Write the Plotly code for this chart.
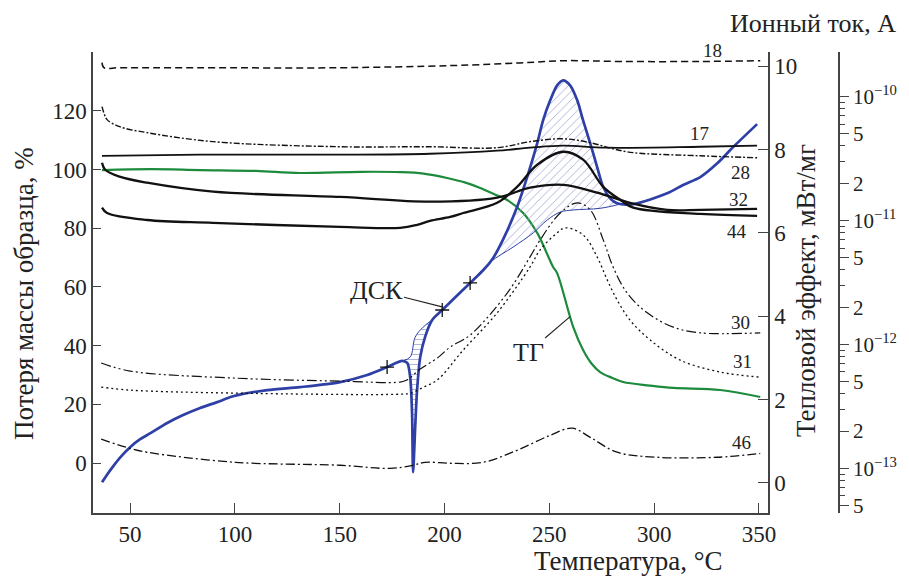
import numpy as np
import plotly.graph_objects as go

# ---------------- data ----------------
# TG, mass %, left axis
T_tg = [36.6, 60, 83.4, 110, 131.1, 160, 178.8, 190, 201.2, 210, 217, 224, 229.9, 237.5,
        244.2, 251.8, 253.7, 261.4, 266.1, 270, 274.2, 280, 285.2, 298, 309.1, 331.5, 350.6]
tg = [99.8, 100.1, 99.8, 99.5, 98.8, 99.2, 99.1, 98.6, 97.1, 95.5, 93.7, 91.5, 89.6, 85.2,
      78.4, 66.8, 64.7, 46.3, 38.5, 34.0, 31.0, 29.0, 27.6, 26.4, 25.6, 24.9, 22.5]

# DSC, mW/mg, right axis
T_dsc = [36.6, 39.0, 41.9, 45.2, 50, 54.8, 59.5, 67.7, 75.3, 83.4, 91.5, 99.1, 115.4, 131.1,
         150.2, 163.1, 172.6, 179.8, 182.2, 183.6, 184.5, 185.0, 186.0, 186.9, 188.4, 190.7,
         194.1, 198.9, 212.2, 218.4, 223.2, 228.0, 234.6, 239.4, 244.2, 247.0, 250.4, 253.7,
         256.6, 259.9, 263.3, 266.1, 269.5, 272.8, 275.7, 279.0, 282.3, 290.0, 306.2, 313.8,
         322.0, 330.1, 337.7, 349.1]
dsc = [0.02, 0.20, 0.40, 0.61, 0.86, 1.05, 1.19, 1.44, 1.63, 1.80, 1.94, 2.08, 2.23, 2.30,
       2.42, 2.59, 2.78, 2.93, 2.88, 2.54, 1.68, 0.26, 1.34, 2.23, 3.02, 3.50,
       3.91, 4.15, 4.80, 5.10, 5.40, 5.85, 6.62, 7.34, 8.15, 8.70, 9.18, 9.54,
       9.66, 9.54, 9.18, 8.70, 8.15, 7.58, 7.10, 6.83, 6.71, 6.69, 6.95, 7.15,
       7.34, 7.67, 8.06, 8.61]

# DSC integration baselines
T_base_peak = [212.2, 221.8, 232.7, 242.3, 249.0, 255.2, 261.4, 274.2, 283.8]
base_peak = [4.80, 5.30, 5.66, 6.00, 6.31, 6.50, 6.55, 6.59, 6.69]
T_base_dip = [179.8, 183.6, 186.0, 189.8, 194.1]
base_dip = [2.93, 3.02, 3.50, 3.74, 3.91]
T_marks = [172.6, 198.9, 212.2]

# Ion currents, units of 1e-10 A (log axis)
T_18 = [36.6, 37.5, 45, 83, 150, 203, 236, 257, 284, 322, 350.6]
i_18 = [1.88, 1.71, 1.71, 1.71, 1.71, 1.78, 1.87, 1.95, 1.92, 1.92, 1.95]

T_17 = [36.6, 83.4, 150.2, 193, 225.1, 240.8, 256.6, 277, 322, 349.1]
i_17 = [0.333, 0.340, 0.340, 0.346, 0.366, 0.387, 0.402, 0.387, 0.394, 0.402]

T_28 = [36.6, 37.6, 39.0, 45, 58.1, 89.6, 150.2, 193.1, 225.1, 240.8, 256.6, 269.5, 280, 290, 322, 349.1]
i_28 = [0.830, 0.729, 0.652, 0.572, 0.512, 0.433, 0.394, 0.394, 0.387, 0.433, 0.457, 0.425,
        0.380, 0.353, 0.333, 0.321]

T_32 = [36.6, 38.1, 45, 58.1, 89.6, 150.2, 193.1, 225.1, 240.8, 256.6, 272.8, 288.5, 306.2, 322, 349.1]
i_32 = [0.293, 0.257, 0.226, 0.202, 0.171, 0.155, 0.142, 0.153, 0.184, 0.194, 0.168, 0.139,
        0.122, 0.122, 0.124]

T_44 = [36.6, 39.0, 58.1, 89.6, 150.2, 178.8, 186.9, 193.1, 202.7, 208.9, 225.1, 234.6, 244.2,
        256.6, 266.1, 275.7, 283.8, 290, 322, 349.1]
i_44 = [0.127, 0.115, 0.101, 0.0958, 0.0889, 0.0873, 0.0923, 0.0994, 0.107, 0.115, 0.139, 0.187,
        0.282, 0.359, 0.310, 0.187, 0.147, 0.127, 0.113, 0.109]

T_30 = [36.2, 50, 100.1, 150.2, 178.8, 182, 188.4, 196.5, 202.7, 212.2, 229.9, 240.8, 245.6, 255.2,
        263.3, 269.5, 275.7, 280.4, 287.1, 296.7, 309.1, 322, 350.6]
i_30 = [0.00708, 0.00610, 0.00535, 0.00506, 0.00497, 0.00516, 0.00633, 0.00776, 0.00953, 0.0119,
        0.0260, 0.0509, 0.0698, 0.115, 0.139, 0.122, 0.0698, 0.0422, 0.0260, 0.0180, 0.0138, 0.0124, 0.0124]

T_31 = [36.2, 50, 100.1, 178.8, 184, 190, 196.5, 208.9, 225.1, 240.8, 245.6, 253.7, 257.5, 266.1,
        272.8, 277.6, 282.3, 288.5, 298.1, 312.4, 331.5, 350.6]
i_31 = [0.00453, 0.00428, 0.00405, 0.00397, 0.00405, 0.00453, 0.00516, 0.00901, 0.0180, 0.0422,
        0.0580, 0.0796, 0.0873, 0.0766, 0.0509, 0.0332, 0.0229, 0.0157, 0.01086, 0.00748, 0.00599, 0.00545]

T_46 = [36.2, 50, 58.1, 100.1, 150.2, 174, 185, 190.7, 202.7, 218.4, 234.6, 250.4, 260.9, 269.5,
        282.3, 301.4, 330.1, 350.6]
i_46 = [0.00172, 0.00145, 0.00135, 0.00112, 0.00106, 0.00100, 0.00106, 0.00112, 0.00110, 0.00112,
        0.00140, 0.00185, 0.00211, 0.00178, 0.00135, 0.00123, 0.00123, 0.00132]

x_ticks = [50, 100, 150, 200, 250, 300, 350]
y_ticks = [0, 20, 40, 60, 80, 100, 120]
y2_ticks = [0, 2, 4, 6, 8, 10]
log_tickvals = [1e-10, 5e-11, 2e-11, 1e-11, 5e-12, 2e-12, 1e-12, 5e-13, 2e-13, 1e-13, 5e-14]
log_ticktext = ["10<sup>−10</sup>", "5", "2", "10<sup>−11</sup>", "5", "2",
                "10<sup>−12</sup>", "5", "2", "10<sup>−13</sup>", "5"]

ION_SCALE = 1e-10

# ---------------- styling ----------------
FONT = "Liberation Serif"
BLUE = "#2e3fa6"
GREEN = "#1d8a3c"
HATCH = "#a9add6"
AX = "#444444"

W, H = 909, 576
ML, MR, MT, MB = 93, 70, 52, 63
PW, PH = W - ML - MR, H - MT - MB


def px(p):
    return (p - ML) / PW


def py(p):
    return (H - MB - p) / PH


fig = go.Figure()

# hatched areas
Td = np.array(T_dsc)
Dd = np.array(dsc)
sel = (Td >= T_base_peak[0]) & (Td <= T_base_peak[-1])
fig.add_trace(go.Scatter(
    x=list(Td[sel]) + T_base_peak[::-1], y=list(Dd[sel]) + base_peak[::-1],
    yaxis="y2", mode="lines", fill="toself", line=dict(width=0, color="rgba(0,0,0,0)"),
    fillcolor="rgba(0,0,0,0)",
    fillpattern=dict(shape="/", fgcolor=HATCH, bgcolor="rgba(0,0,0,0)", size=6, solidity=0.15),
    hoverinfo="skip", showlegend=False))
sel2 = (Td >= T_base_dip[0]) & (Td <= T_base_dip[-1])
fig.add_trace(go.Scatter(
    x=list(Td[sel2]) + T_base_dip[::-1], y=list(Dd[sel2]) + base_dip[::-1],
    yaxis="y2", mode="lines", fill="toself", line=dict(width=0, color="rgba(0,0,0,0)"),
    fillcolor="rgba(0,0,0,0)",
    fillpattern=dict(shape="-", fgcolor=HATCH, bgcolor="rgba(0,0,0,0)", size=5, solidity=0.18),
    hoverinfo="skip", showlegend=False))

# TG
fig.add_trace(go.Scatter(x=T_tg, y=tg, yaxis="y", mode="lines",
                         line=dict(color=GREEN, width=2.2, shape="spline", smoothing=1.0),
                         showlegend=False))

# ion currents
ion_specs = [
    (T_18, i_18, 1.5, "7px,4px"),
    (T_17, i_17, 1.8, "solid"),
    (T_28, i_28, 1.4, "6px,2px,2px,2px"),
    (T_32, i_32, 2.3, "solid"),
    (T_44, i_44, 2.3, "solid"),
    (T_30, i_30, 1.2, "10px,3px,2px,3px,2px,3px"),
    (T_31, i_31, 1.3, "2px,3px"),
    (T_46, i_46, 1.3, "9px,3px,2px,3px"),
]
for t, v, w, d in ion_specs:
    fig.add_trace(go.Scatter(x=t, y=np.array(v) * ION_SCALE, yaxis="y3", mode="lines",
                             line=dict(color="#111111", width=w, dash=d, shape="spline", smoothing=1.0),
                             showlegend=False))

# DSC baselines
fig.add_trace(go.Scatter(x=T_base_peak, y=base_peak, yaxis="y2", mode="lines",
                         line=dict(color=BLUE, width=1, shape="spline", smoothing=1.0), showlegend=False))
fig.add_trace(go.Scatter(x=T_base_dip, y=base_dip, yaxis="y2", mode="lines",
                         line=dict(color=BLUE, width=1, shape="spline", smoothing=1.0), showlegend=False))
# DSC
fig.add_trace(go.Scatter(x=T_dsc, y=dsc, yaxis="y2", mode="lines",
                         line=dict(color=BLUE, width=2.7, shape="spline", smoothing=0.8),
                         showlegend=False))
fig.add_trace(go.Scatter(x=T_marks, y=np.interp(T_marks, T_dsc, dsc), yaxis="y2", mode="markers",
                         marker=dict(symbol="cross-thin", size=10, line=dict(color="#111111", width=1.3)),
                         showlegend=False))

# minor ticks of log axis
minor_vals = []
for e in range(-14, -9):
    for m in [3, 4, 6, 7, 8, 9]:
        v = m * 10.0 ** e
        if 10 ** -13.36 <= v <= 10 ** -9.64:
            minor_vals.append(v)

tickfont = dict(family=FONT, size=23, color="#222222")
common = dict(showline=True, linecolor=AX, linewidth=1.5, showgrid=False, zeroline=False,
              tickcolor=AX, tickwidth=1.3, tickfont=tickfont, automargin=False)

fig.update_layout(
    template="none",
    width=W, height=H,
    margin=dict(l=ML, r=MR, t=MT, b=MB, autoexpand=False),
    paper_bgcolor="white", plot_bgcolor="white",
    font=dict(family=FONT, color="#222222"),
    showlegend=False,
    xaxis=dict(domain=[0, (768 - ML) / PW], range=[32.3, 354.3], tickvals=x_ticks,
               ticks="inside", ticklen=10, **common),
    yaxis=dict(range=[-17, 140], tickvals=y_ticks, ticks="inside", ticklen=8, **common),
    yaxis2=dict(range=[-0.72, 10.34], tickvals=y2_ticks, ticks="inside", ticklen=10,
                overlaying="y", side="right", anchor="x", **common),
    yaxis3=dict(type="log", range=[-13.36, -9.64], tickvals=log_tickvals, ticktext=log_ticktext,
                ticks="outside", ticklen=9, overlaying="y", side="right", anchor="free", position=1.0,
                minor=dict(tickvals=minor_vals, ticklen=5, tickcolor=AX, ticks="outside"),
                **{**common, "tickfont": dict(family=FONT, size=21, color="#222222")}),
)

ann = []
title_font = dict(family=FONT, size=27, color="#222222")
ann.append(dict(text="Температура, °C", x=px(628), y=py(561), xref="paper", yref="paper",
                showarrow=False, font=title_font, xanchor="center", yanchor="middle"))
ann.append(dict(text="Потеря массы образца, %", x=px(24), y=py(294), xref="paper", yref="paper",
                showarrow=False, font=title_font, textangle=-90, xanchor="center", yanchor="middle"))
ann.append(dict(text="Тепловой эффект, мВт/мг", x=px(806), y=py(291), xref="paper", yref="paper",
                showarrow=False, font=title_font, textangle=-90, xanchor="center", yanchor="middle"))
ann.append(dict(text="Ионный ток, А", x=px(813), y=py(24), xref="paper", yref="paper",
                showarrow=False, font=dict(family=FONT, size=26, color="#222222"),
                xanchor="center", yanchor="middle"))

for lab, xx, yy in [("18", 712, 50), ("17", 699, 134), ("28", 740, 172), ("32", 738, 200),
                    ("44", 737, 231), ("30", 740, 322), ("31", 742, 361), ("46", 741, 442)]:
    ann.append(dict(text=lab, x=px(xx), y=py(yy), xref="paper", yref="paper", showarrow=False,
                    font=dict(family=FONT, size=19, color="#222222"), xanchor="center", yanchor="middle"))

# curve name callouts
ann.append(dict(text="ДСК", x=199.3, y=float(np.interp(199.3, T_dsc, dsc)) + 0.05, xref="x", yref="y2",
                ax=-67, ay=-17, showarrow=True, arrowhead=0, arrowwidth=1.1, arrowcolor="#222222",
                standoff=0, font=dict(family=FONT, size=26, color="#222222")))
ann.append(dict(text="ТГ", x=259.9, y=float(np.interp(259.9, T_tg, tg)), xref="x", yref="y",
                ax=-42, ay=36, showarrow=True, arrowhead=0, arrowwidth=1.1, arrowcolor="#222222",
                standoff=0, font=dict(family=FONT, size=26, color="#222222")))
fig.update_layout(annotations=ann)

fig.write_html("out.html", config={"displayModeBar": False},
               post_script="document.body.style.margin='0';document.body.style.overflow='hidden';")
